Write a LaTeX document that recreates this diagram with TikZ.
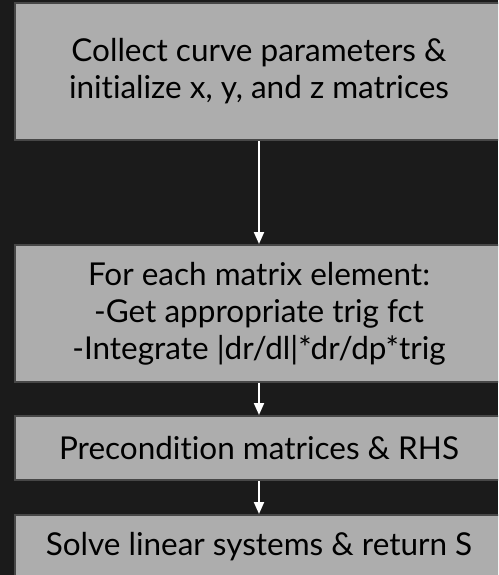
\documentclass[tikz,border=0pt]{standalone}
\usepackage{fontspec}
\setmainfont{Lato}[Ligatures=NoCommon]
\usepackage{tikz}
\usetikzlibrary{arrows.meta}

\definecolor{bgdark}{HTML}{1B1B1B}
\definecolor{boxgray}{HTML}{ADADAD}
\definecolor{boxedge}{HTML}{474747}

\begin{document}
\begin{tikzpicture}[x=1pt, y=-1pt,
    block/.style={draw=boxedge, line width=2pt, fill=boxgray, text=black,
      minimum width=488pt, inner sep=0pt, align=center,
      font=\fontsize{31.5}{37}\selectfont},
    flow/.style={white, line width=2pt, -{Triangle[width=10pt,length=12pt]}}]
    \fill [bgdark] (0, 0) rectangle (498, 575);
    \useasboundingbox (0, 0) rectangle (498, 575);
    \clip (0, 0) rectangle (498, 575);

    \node [block, minimum height=137pt] (collect) at (259, 71.5)
      {Collect curve parameters \&\\initialize x, y, and z matrices};
    \node [block, minimum height=137pt] (element) at (259, 313.5)
      {For each matrix element:\\-Get appropriate trig fct\\-Integrate |dr/dl|*dr/dp*trig};
    \node [block, minimum height=64pt] (precond) at (259, 448)
      {Precondition matrices \& RHS};
    \node [block, minimum height=64pt] (solve) at (259, 547)
      {Solve linear systems \& return S};

    \draw [flow] (collect) -- (element);
    \draw [flow] (element) -- (precond);
    \draw [flow] (precond) -- (solve);
  \end{tikzpicture}
\end{document}
